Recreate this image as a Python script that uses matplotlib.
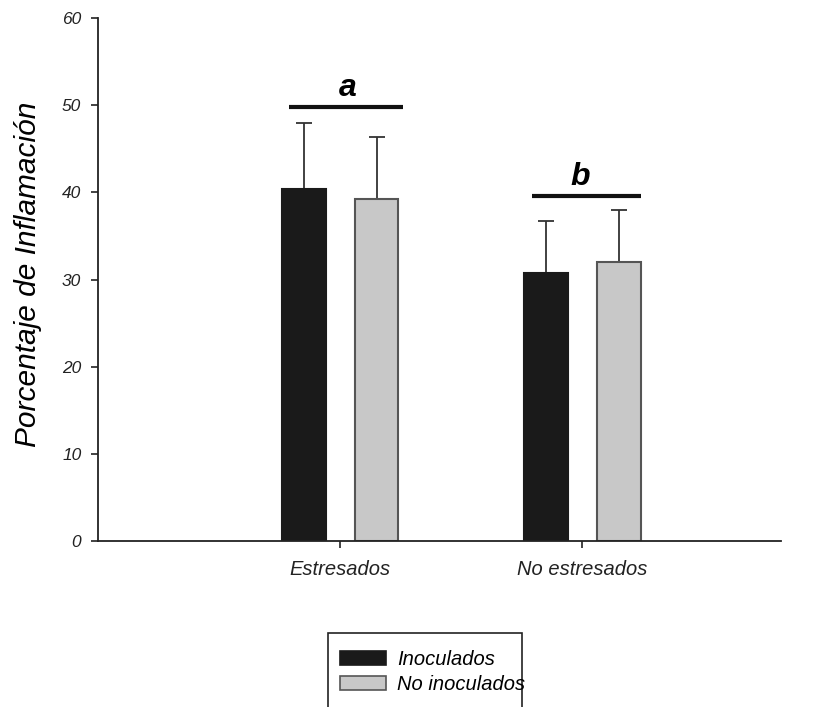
import numpy as np
import matplotlib
matplotlib.use("Agg")
import matplotlib.pyplot as plt
from matplotlib.patches import Rectangle, Patch

plt.rcParams['font.family'] = ['Liberation Sans', 'DejaVu Sans']

# datos
grupos = ['Estresados', 'No estresados']
series = ['Inoculados', 'No inoculados']
inoculados = [40.4, 30.8]
inoculados_err = [7.6, 5.9]
no_inoculados = [39.2, 32.0]
no_inoculados_err = [7.2, 6.0]
letras = ['a', 'b']
letras_y = [49.8, 39.6]

colores = ['#1a1a1a', '#c8c8c8']
bordes = ['#1a1a1a', '#555555']

fig = plt.figure(figsize=(8.14, 7.07), dpi=100)
ax = fig.add_axes([98/814, 1-541/707, (781-98)/814, (541-18)/707])

x = np.arange(1, len(grupos)+1)
w = 0.18
off = 0.15
vals = [inoculados, no_inoculados]
errs = [inoculados_err, no_inoculados_err]
for k in range(2):
    pos = x + (2*k-1)*off
    ax.bar(pos, vals[k], width=w, color=colores[k], edgecolor=bordes[k], linewidth=1.5, zorder=2)
    ax.errorbar(pos, vals[k], yerr=[np.zeros(len(x)), errs[k]], fmt='none',
                ecolor='#333333', elinewidth=1.3, capsize=5.5, capthick=1.3, zorder=1)

# lineas de significancia
for i in range(len(x)):
    ax.plot([x[i]-0.21, x[i]+0.26 if i == 0 else x[i]+0.24], [letras_y[i], letras_y[i]],
            color='#111111', lw=3, solid_capstyle='butt', clip_on=False)
    ax.text(x[i]+0.03 if i == 0 else x[i]-0.01, letras_y[i]+0.4, letras[i], ha='center', va='bottom',
            fontsize=23, fontweight='bold', fontstyle='italic')

ax.set_xlim(0, 2.82)
ax.set_ylim(0, 60)
ax.set_yticks(range(0, 61, 10))
ax.set_xticks(x)
ax.set_xticklabels(grupos, fontsize=14.5, fontstyle='italic')
for t in ax.get_yticklabels():
    t.set_fontsize(12.5)
    t.set_fontstyle('italic')
ax.tick_params(axis='y', length=5, width=1.2, pad=7, colors='#222222')
ax.tick_params(axis='x', length=5, width=1.2, pad=9, colors='#222222')
ax.spines['top'].set_visible(False)
ax.spines['right'].set_visible(False)
for s in ['left', 'bottom']:
    ax.spines[s].set_linewidth(1.3)
    ax.spines[s].set_color('#222222')
ax.set_ylabel('Porcentaje de Inflamación', fontsize=21.5, fontstyle='italic')
ax.yaxis.set_label_coords(-0.082, 0.51)

# leyenda
handles = [Patch(facecolor=colores[k], edgecolor=bordes[k], linewidth=1.2) for k in range(2)]
fig.legend(handles, series, loc='upper left', bbox_to_anchor=(340/814, 1-650/707),
           frameon=False, prop={'size': 14.5, 'style': 'italic'},
           handlelength=2.3, handleheight=0.74, handletextpad=0.55, labelspacing=0.3,
           borderpad=0, borderaxespad=0)
fig.patches.append(Rectangle((328/814, -0.05), (522-328)/814, 0.05+(707-633)/707,
                             transform=fig.transFigure, fill=False, edgecolor='#222222', linewidth=1.2))

fig.savefig('out.png', dpi=100)
